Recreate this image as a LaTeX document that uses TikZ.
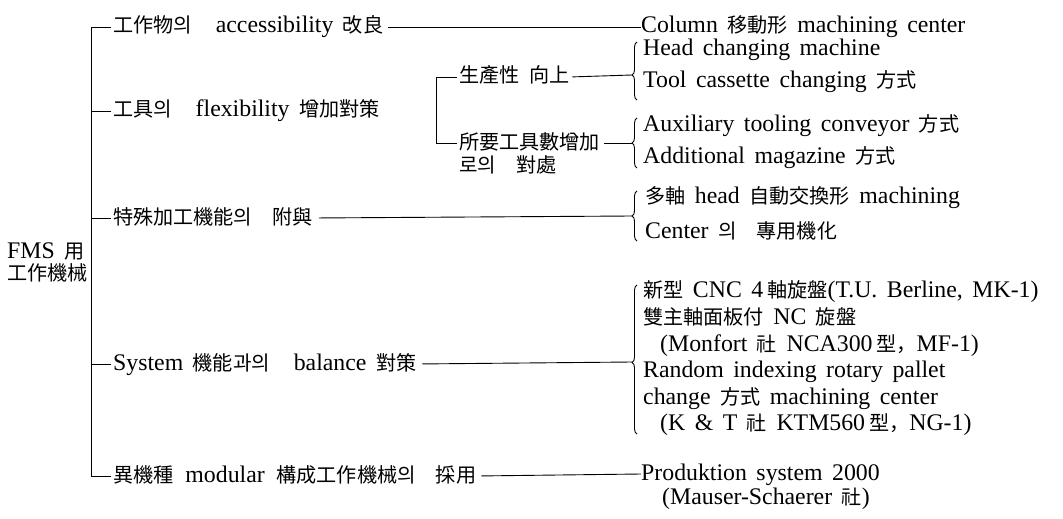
\documentclass[tikz,border=0pt]{standalone}
\usepackage{fontspec}
\setmainfont{Liberation Serif}
\newfontfamily\krf[Scale=0.845]{Noto Sans CJK KR}
\newcommand\K[1]{{\krf #1}}
\newcommand\lblfont{\fontsize{23.8}{27}\selectfont\spaceskip=0.4em plus 0.1em\relax}
\usetikzlibrary{decorations.pathreplacing}
\begin{document}
\begin{tikzpicture}[x=1pt,y=-1pt,
  lbl/.style={inner sep=0pt, anchor=west, text height=17pt, text depth=5pt,
    font=\lblfont},
  conn/.style={line width=0.9pt},
  brc/.style={line width=0.9pt, decorate, decoration={brace, amplitude=5pt}}]
\useasboundingbox (0,0) rectangle (1063,519);
% root
\node[lbl] (root1) at (7,252) {FMS \K{用}};
\node[lbl] (root2) at (7,274) {\K{工作機械}};
% main bracket
\coordinate (j1) at (91,27);
\coordinate (j2) at (91,111);
\coordinate (j3) at (91,218);
\coordinate (j4) at (91,364);
\coordinate (j5) at (91,476);
\draw[conn] (j1) -- (j5);
% level-1 branches
\node[lbl] (b1) at (113,27) {\K{工作物의}\quad accessibility \K{改良}};
\node[lbl] (b2) at (113,111) {\K{工具의}\quad flexibility \K{增加對策}};
\node[lbl] (b3) at (113,218) {\K{特殊加工機能의\quad 附與}};
\node[lbl] (b4) at (113,364) {System \K{機能과의}\quad balance \K{對策}};
\node[lbl] (b5) at (113,476) {\K{異機種}\enspace modular\enspace \K{構成工作機械의\quad 採用}};
\foreach \i in {1,...,5} {\draw[conn, shorten >=2pt] (j\i) -- (b\i.west);}
% sub bracket of b2
\coordinate (s1) at (436,77);
\coordinate (s2) at (436,143);
\draw[conn] (s1) -- (s2);
\node[lbl] (c1) at (459,77) {\K{生產性 向上}};
\node[lbl] (c2) at (459,143) {\K{所要工具數增加}};
\node[lbl] (c2b) at (459,166) {\K{로의\quad 對處}};
\draw[conn, shorten >=2pt] (s1) -- (c1.west);
\draw[conn, shorten >=2pt] (s2) -- (c2.west);
% braces
\coordinate (tip1) at (632,75);
\coordinate (tip2) at (632,143);
\coordinate (tip3) at (632,216);
\coordinate (tip4) at (632,362);
\draw[brc, decoration={aspect=0.43}] (637,100) -- (637,42);
\draw[brc] (637,168) -- (637,118);
\draw[brc] (637,241) -- (637,191);
\draw[brc, decoration={aspect=0.48}] (637,434) -- (637,285);
\draw[conn, shorten <=3pt] (c1.east) -- (tip1);
\draw[conn, shorten <=4pt] (c2.east) -- (tip2);
\draw[conn, shorten <=6pt] (b3.east) -- (tip3);
\draw[conn, shorten <=6pt] (b4.east) -- (tip4);
% right side items
\node[lbl] (r1) at (641,27) {Column \K{移動形} machining center};
\draw[conn, shorten <=5pt] (b1.east) -- (r1.west);
\node[lbl] (h1) at (643,50) {Head changing machine};
\node[lbl] (h2) at (643,82) {Tool cassette changing \K{方式}};
\node[lbl] (h3) at (643,125) {Auxiliary tooling conveyor \K{方式}};
\node[lbl] (h4) at (643,157) {Additional magazine \K{方式}};
\node[lbl] (h5) at (645,197) {\K{多軸} head \K{自動交換形} machining};
\node[lbl] (h6) at (645,232) {Center \K{의\quad 專用機化}};
\node[lbl] (h7) at (643,291) {\K{新型} CNC 4\,\K{軸旋盤}(T.U. Berline, MK-1)};
\node[lbl] (h8) at (643,318) {\K{雙主軸面板付} NC \K{旋盤}};
\node[lbl] (h9) at (660,345) {(Monfort \K{社} NCA300\,\K{型，}MF-1)};
\node[lbl] (h10) at (643,371) {Random indexing rotary pallet};
\node[lbl] (h11) at (643,398) {change \K{方式} machining center};
\node[lbl] (h12) at (660,424) {(K \& T \K{社} KTM560\,\K{型，}NG-1)};
\node[lbl] (r5) at (641,474) {Produktion system 2000};
\node[lbl] (h14) at (662,498) {(Mauser-Schaerer \K{社})};
\draw[conn, shorten <=5pt] (b5.east) -- (r5.west);
\end{tikzpicture}
\end{document}
